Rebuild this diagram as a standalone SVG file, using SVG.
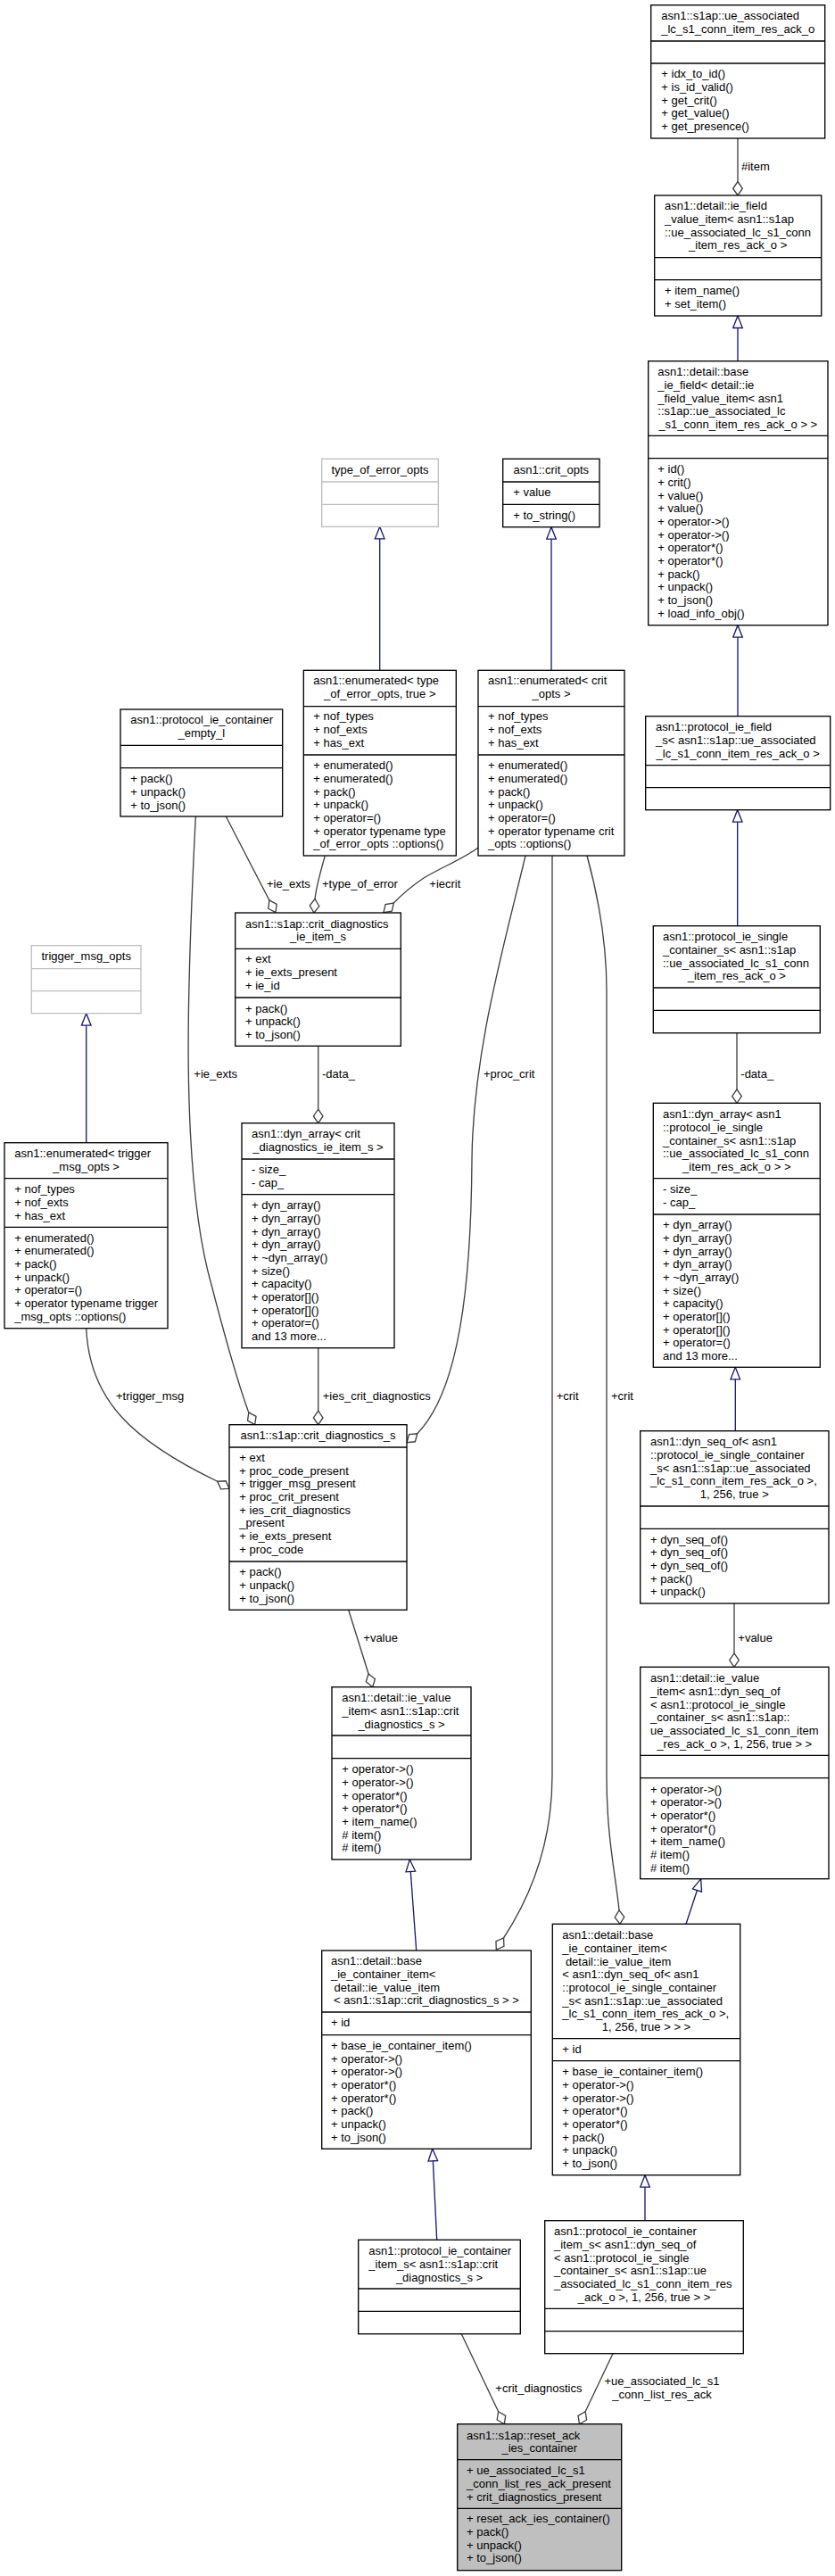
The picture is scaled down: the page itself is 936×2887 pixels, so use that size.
<svg xmlns="http://www.w3.org/2000/svg" width="936" height="2887" viewBox="0 0 936 2887">
<style>
.t{font-family:"Liberation Sans",Arial,Helvetica,sans-serif;font-size:13px;fill:#000}
.c{text-anchor:middle}
.box{fill:#fff;stroke:#000;stroke-width:1.33}
.gbox{fill:#fff;stroke:#bfbfbf;stroke-width:1.33}
.main{fill:#bfbfbf;stroke:#000;stroke-width:1.33}
.dv{stroke:#000;stroke-width:1.33}
.gdv{stroke:#bfbfbf;stroke-width:1.33}
.agg{fill:none;stroke:#404040;stroke-width:1.33;marker-end:url(#dia)}
.inh{fill:none;stroke:#191970;stroke-width:1.33;marker-end:url(#tri)}
</style>
<defs>
<marker id="dia" markerUnits="userSpaceOnUse" markerWidth="18" markerHeight="13" viewBox="0 0 18 13" refX="16.5" refY="6.5" orient="auto">
<path d="M1,6.5 L8.75,1.2 L16.5,6.5 L8.75,11.8 Z" fill="#fff" stroke="#404040" stroke-width="1.33"/>
</marker>
<marker id="tri" markerUnits="userSpaceOnUse" markerWidth="16" markerHeight="13" viewBox="0 0 16 13" refX="14.5" refY="6.5" orient="auto">
<path d="M1,1.2 L14.5,6.5 L1,11.8 Z" fill="#fff" stroke="#191970" stroke-width="1.33"/>
</marker>
</defs>
<rect width="936" height="2887" fill="#fff"/>

<g id="connectors">
<path class="agg" d="M827,155 L827,219"/>
<text class="t" x="831" y="191.2">#item</text>
<path class="inh" d="M827,404.7 L827,354"/>
<path class="inh" d="M827,802.7 L827,700.7"/>
<path class="inh" d="M826.7,1037.7 L826.7,907.7"/>
<path class="agg" d="M826,1157.7 L826,1236.3"/>
<text class="t" x="830.3" y="1208.2">-data_</text>
<path class="inh" d="M824.3,1603.7 L824.3,1532.3"/>
<path class="agg" d="M823,1797 L823,1868.3"/>
<text class="t" x="827.3" y="1840.2">+value</text>
<path class="inh" d="M769,2156.3 L785.7,2105.7"/>
<path class="inh" d="M723,2488.7 L723,2437.7"/>
<path class="agg" d="M687,2637.7 L649.5,2716.7"/>
<text class="t c" x="742" y="2673.2">+ue_associated_lc_s1</text>
<text class="t c" x="742" y="2688.2">_conn_list_res_ack</text>
<path class="agg" d="M517.3,2615.7 L565.3,2716.7"/>
<text class="t" x="555.3" y="2681.2">+crit_diagnostics</text>
<path class="inh" d="M489.7,2510.3 L484.7,2408.3"/>
<path class="inh" d="M466.7,2186 L459.3,2084"/>
<path class="agg" d="M390.7,1804.3 L417.7,1890.7"/>
<text class="t" x="407.3" y="1840.2">+value</text>
<path class="agg" d="M96.7,1488.7 C100,1570 150,1615 243.3,1660 L257,1668.3"/>
<text class="t" x="130" y="1568.5">+trigger_msg</text>
<path class="agg" d="M219.3,915 C211,1080 200,1310 237,1440 C250,1490 265,1545 278.3,1581.7 L285.7,1596.7"/>
<text class="t" x="217.3" y="1208.2">+ie_exts</text>
<path class="agg" d="M356.7,1510.7 L356.7,1596.7"/>
<text class="t" x="361.7" y="1568.5">+ies_crit_diagnostics</text>
<path class="agg" d="M589,959 C565,1060 530,1180 529,1300 C528,1440 515,1560 466.7,1607.7 L456,1616.7"/>
<text class="t" x="542" y="1208.2">+proc_crit</text>
<path class="inh" d="M96.7,1280.7 L96.7,1135.7"/>
<path class="agg" d="M253.3,915 L309,1022.7"/>
<text class="t" x="299" y="995.2">+ie_exts</text>
<path class="agg" d="M364.3,959 C360,975 354,995 353,1008.3 L352,1023"/>
<text class="t" x="361" y="995.2">+type_of_error</text>
<path class="agg" d="M536,950 C520,962 495,972 475,984 C460,994 448,1005 440,1013.3 L430,1022.7"/>
<text class="t" x="481.3" y="995.2">+iecrit</text>
<path class="agg" d="M356.7,1172.3 L356.7,1258.7"/>
<text class="t" x="361" y="1208.2">-data_</text>
<path class="inh" d="M618,751.3 L618,590.7"/>
<path class="inh" d="M425.7,751.3 L425.7,590.3"/>
<path class="agg" d="M619,959 L619,1990 C619,2050 605,2110 564.7,2171.7 L556.3,2185"/>
<text class="t" x="623.7" y="1568.5">+crit</text>
<path class="agg" d="M658,959 C672,1010 680,1060 680,1110 L680,1990 C680,2060 690,2100 694,2140.7 L695,2156.3"/>
<text class="t" x="685" y="1568.5">+crit</text>
</g>

<g id="n_ue_assoc_item_o">
<rect class="box" x="729.7" y="5.7" width="195" height="149.3"/>
<line class="dv" x1="729.7" y1="46" x2="924.7" y2="46"/>
<line class="dv" x1="729.7" y1="71" x2="924.7" y2="71"/>
<text class="t" x="741.3" y="21.8">asn1::s1ap::ue_associated</text>
<text class="t c" x="827.2" y="36.5">_lc_s1_conn_item_res_ack_o</text>
<text class="t" x="741.3" y="87.2">+ idx_to_id()</text>
<text class="t" x="741.3" y="101.9">+ is_id_valid()</text>
<text class="t" x="741.3" y="116.5">+ get_crit()</text>
<text class="t" x="741.3" y="131.2">+ get_value()</text>
<text class="t" x="741.3" y="145.9">+ get_presence()</text>
</g>

<g id="n_ie_field_value_item">
<rect class="box" x="733.7" y="219" width="187" height="135"/>
<line class="dv" x1="733.7" y1="288.7" x2="920.7" y2="288.7"/>
<line class="dv" x1="733.7" y1="313.7" x2="920.7" y2="313.7"/>
<text class="t" x="745" y="235.2">asn1::detail::ie_field</text>
<text class="t" x="745" y="249.9">_value_item&lt; asn1::s1ap</text>
<text class="t" x="745" y="264.5">::ue_associated_lc_s1_conn</text>
<text class="t c" x="827.2" y="279.2">_item_res_ack_o &gt;</text>
<text class="t" x="745" y="329.8">+ item_name()</text>
<text class="t" x="745" y="344.5">+ set_item()</text>
</g>

<g id="n_base_ie_field">
<rect class="box" x="726.7" y="404.7" width="201.3" height="296"/>
<line class="dv" x1="726.7" y1="488.3" x2="928" y2="488.3"/>
<line class="dv" x1="726.7" y1="513.7" x2="928" y2="513.7"/>
<text class="t" x="737.3" y="421.2">asn1::detail::base</text>
<text class="t" x="737.3" y="435.9">_ie_field&lt; detail::ie</text>
<text class="t" x="737.3" y="450.5">_field_value_item&lt; asn1</text>
<text class="t" x="737.3" y="465.2">::s1ap::ue_associated_lc</text>
<text class="t c" x="827.3" y="479.9">_s1_conn_item_res_ack_o &gt; &gt;</text>
<text class="t" x="737.3" y="530.2">+ id()</text>
<text class="t" x="737.3" y="544.9">+ crit()</text>
<text class="t" x="737.3" y="559.5">+ value()</text>
<text class="t" x="737.3" y="574.2">+ value()</text>
<text class="t" x="737.3" y="588.9">+ operator-&gt;()</text>
<text class="t" x="737.3" y="603.5">+ operator-&gt;()</text>
<text class="t" x="737.3" y="618.2">+ operator*()</text>
<text class="t" x="737.3" y="632.9">+ operator*()</text>
<text class="t" x="737.3" y="647.5">+ pack()</text>
<text class="t" x="737.3" y="662.2">+ unpack()</text>
<text class="t" x="737.3" y="676.9">+ to_json()</text>
<text class="t" x="737.3" y="691.5">+ load_info_obj()</text>
</g>

<g id="n_protocol_ie_field_s">
<rect class="box" x="723.7" y="802.7" width="207" height="105"/>
<line class="dv" x1="723.7" y1="857.7" x2="930.7" y2="857.7"/>
<line class="dv" x1="723.7" y1="882.7" x2="930.7" y2="882.7"/>
<text class="t" x="735" y="819.2">asn1::protocol_ie_field</text>
<text class="t" x="735" y="833.9">_s&lt; asn1::s1ap::ue_associated</text>
<text class="t c" x="827.2" y="848.5">_lc_s1_conn_item_res_ack_o &gt;</text>
</g>

<g id="n_protocol_ie_single_container_s">
<rect class="box" x="732.3" y="1037.7" width="187" height="120"/>
<line class="dv" x1="732.3" y1="1107" x2="919.3" y2="1107"/>
<line class="dv" x1="732.3" y1="1132.3" x2="919.3" y2="1132.3"/>
<text class="t" x="743" y="1054.2">asn1::protocol_ie_single</text>
<text class="t" x="743" y="1068.9">_container_s&lt; asn1::s1ap</text>
<text class="t" x="743" y="1083.5">::ue_associated_lc_s1_conn</text>
<text class="t c" x="825.8" y="1098.2">_item_res_ack_o &gt;</text>
</g>

<g id="n_dyn_array_single_container">
<rect class="box" x="732.3" y="1236.3" width="187" height="296"/>
<line class="dv" x1="732.3" y1="1320.7" x2="919.3" y2="1320.7"/>
<line class="dv" x1="732.3" y1="1361" x2="919.3" y2="1361"/>
<text class="t" x="743" y="1253.2">asn1::dyn_array&lt; asn1</text>
<text class="t" x="743" y="1267.9">::protocol_ie_single</text>
<text class="t" x="743" y="1282.5">_container_s&lt; asn1::s1ap</text>
<text class="t" x="743" y="1297.2">::ue_associated_lc_s1_conn</text>
<text class="t c" x="825.8" y="1311.9">_item_res_ack_o &gt; &gt;</text>
<text class="t" x="743" y="1337.2">- size_</text>
<text class="t" x="743" y="1351.9">- cap_</text>
<text class="t" x="743" y="1377.2">+ dyn_array()</text>
<text class="t" x="743" y="1391.9">+ dyn_array()</text>
<text class="t" x="743" y="1406.5">+ dyn_array()</text>
<text class="t" x="743" y="1421.2">+ dyn_array()</text>
<text class="t" x="743" y="1435.9">+ ~dyn_array()</text>
<text class="t" x="743" y="1450.5">+ size()</text>
<text class="t" x="743" y="1465.2">+ capacity()</text>
<text class="t" x="743" y="1479.9">+ operator[]()</text>
<text class="t" x="743" y="1494.5">+ operator[]()</text>
<text class="t" x="743" y="1509.2">+ operator=()</text>
<text class="t" x="743" y="1523.9">and 13 more...</text>
</g>

<g id="n_dyn_seq_of">
<rect class="box" x="717.7" y="1603.7" width="211.3" height="193.3"/>
<line class="dv" x1="717.7" y1="1688" x2="929" y2="1688"/>
<line class="dv" x1="717.7" y1="1713.3" x2="929" y2="1713.3"/>
<text class="t" x="729" y="1620.2">asn1::dyn_seq_of&lt; asn1</text>
<text class="t" x="729" y="1634.9">::protocol_ie_single_container</text>
<text class="t" x="729" y="1649.5">_s&lt; asn1::s1ap::ue_associated</text>
<text class="t" x="729" y="1664.2">_lc_s1_conn_item_res_ack_o &gt;,</text>
<text class="t c" x="823.3" y="1678.9">1, 256, true &gt;</text>
<text class="t" x="729" y="1729.5">+ dyn_seq_of()</text>
<text class="t" x="729" y="1744.2">+ dyn_seq_of()</text>
<text class="t" x="729" y="1758.9">+ dyn_seq_of()</text>
<text class="t" x="729" y="1773.5">+ pack()</text>
<text class="t" x="729" y="1788.2">+ unpack()</text>
</g>

<g id="n_ie_value_item_seq">
<rect class="box" x="717.7" y="1868.3" width="211.3" height="237.4"/>
<line class="dv" x1="717.7" y1="1967.3" x2="929" y2="1967.3"/>
<line class="dv" x1="717.7" y1="1992.7" x2="929" y2="1992.7"/>
<text class="t" x="729" y="1885.2">asn1::detail::ie_value</text>
<text class="t" x="729" y="1899.9">_item&lt; asn1::dyn_seq_of</text>
<text class="t" x="729" y="1914.5">&lt; asn1::protocol_ie_single</text>
<text class="t" x="729" y="1929.2">_container_s&lt; asn1::s1ap::</text>
<text class="t" x="729" y="1943.9">ue_associated_lc_s1_conn_item</text>
<text class="t c" x="823.3" y="1958.5">_res_ack_o &gt;, 1, 256, true &gt; &gt;</text>
<text class="t" x="729" y="2009.5">+ operator-&gt;()</text>
<text class="t" x="729" y="2024.2">+ operator-&gt;()</text>
<text class="t" x="729" y="2038.9">+ operator*()</text>
<text class="t" x="729" y="2053.5">+ operator*()</text>
<text class="t" x="729" y="2068.2">+ item_name()</text>
<text class="t" x="729" y="2082.9"># item()</text>
<text class="t" x="729" y="2097.5"># item()</text>
</g>

<g id="n_base_ie_container_item_seq">
<rect class="box" x="619.3" y="2156.3" width="210.4" height="281.4"/>
<line class="dv" x1="619.3" y1="2284.7" x2="829.7" y2="2284.7"/>
<line class="dv" x1="619.3" y1="2309.7" x2="829.7" y2="2309.7"/>
<text class="t" x="630.3" y="2173.2">asn1::detail::base</text>
<text class="t" x="630.3" y="2187.9">_ie_container_item&lt;</text>
<text class="t" x="633.9" y="2202.5">detail::ie_value_item</text>
<text class="t" x="630.3" y="2217.2">&lt; asn1::dyn_seq_of&lt; asn1</text>
<text class="t" x="630.3" y="2231.9">::protocol_ie_single_container</text>
<text class="t" x="630.3" y="2246.5">_s&lt; asn1::s1ap::ue_associated</text>
<text class="t" x="630.3" y="2261.2">_lc_s1_conn_item_res_ack_o &gt;,</text>
<text class="t c" x="724.5" y="2275.9">1, 256, true &gt; &gt; &gt;</text>
<text class="t" x="630.3" y="2300.8">+ id</text>
<text class="t" x="630.3" y="2326.2">+ base_ie_container_item()</text>
<text class="t" x="630.3" y="2340.9">+ operator-&gt;()</text>
<text class="t" x="630.3" y="2355.5">+ operator-&gt;()</text>
<text class="t" x="630.3" y="2370.2">+ operator*()</text>
<text class="t" x="630.3" y="2384.9">+ operator*()</text>
<text class="t" x="630.3" y="2399.5">+ pack()</text>
<text class="t" x="630.3" y="2414.2">+ unpack()</text>
<text class="t" x="630.3" y="2428.9">+ to_json()</text>
</g>

<g id="n_protocol_ie_container_item_s_seq">
<rect class="box" x="610.7" y="2488.7" width="222.6" height="149"/>
<line class="dv" x1="610.7" y1="2587.3" x2="833.3" y2="2587.3"/>
<line class="dv" x1="610.7" y1="2612.7" x2="833.3" y2="2612.7"/>
<text class="t" x="621" y="2505.2">asn1::protocol_ie_container</text>
<text class="t" x="621" y="2519.9">_item_s&lt; asn1::dyn_seq_of</text>
<text class="t" x="621" y="2534.5">&lt; asn1::protocol_ie_single</text>
<text class="t" x="621" y="2549.2">_container_s&lt; asn1::s1ap::ue</text>
<text class="t" x="621" y="2563.9">_associated_lc_s1_conn_item_res</text>
<text class="t c" x="722" y="2578.5">_ack_o &gt;, 1, 256, true &gt; &gt;</text>
</g>

<g id="n_reset_ack_ies_container">
<rect class="main" x="512.7" y="2716.7" width="184" height="164"/>
<line class="dv" x1="512.7" y1="2756.7" x2="696.7" y2="2756.7"/>
<line class="dv" x1="512.7" y1="2811.3" x2="696.7" y2="2811.3"/>
<text class="t" x="523" y="2733.5">asn1::s1ap::reset_ack</text>
<text class="t c" x="604.7" y="2748.2">_ies_container</text>
<text class="t" x="523" y="2773.2">+ ue_associated_lc_s1</text>
<text class="t" x="523" y="2787.9">_conn_list_res_ack_present</text>
<text class="t" x="523" y="2802.5">+ crit_diagnostics_present</text>
<text class="t" x="523" y="2827.2">+ reset_ack_ies_container()</text>
<text class="t" x="523" y="2841.9">+ pack()</text>
<text class="t" x="523" y="2856.5">+ unpack()</text>
<text class="t" x="523" y="2871.2">+ to_json()</text>
</g>

<g id="n_protocol_ie_container_item_s_crit">
<rect class="box" x="401.7" y="2510.3" width="181.6" height="105.4"/>
<line class="dv" x1="401.7" y1="2565" x2="583.3" y2="2565"/>
<line class="dv" x1="401.7" y1="2590.3" x2="583.3" y2="2590.3"/>
<text class="t" x="413.3" y="2527.2">asn1::protocol_ie_container</text>
<text class="t" x="413.3" y="2541.9">_item_s&lt; asn1::s1ap::crit</text>
<text class="t c" x="492.5" y="2556.5">_diagnostics_s &gt;</text>
</g>

<g id="n_base_ie_container_item_crit">
<rect class="box" x="360.7" y="2186" width="234.6" height="222.3"/>
<line class="dv" x1="360.7" y1="2255" x2="595.3" y2="2255"/>
<line class="dv" x1="360.7" y1="2280.7" x2="595.3" y2="2280.7"/>
<text class="t" x="371" y="2202.2">asn1::detail::base</text>
<text class="t" x="371" y="2216.9">_ie_container_item&lt;</text>
<text class="t" x="374.6" y="2231.5">detail::ie_value_item</text>
<text class="t c" x="478" y="2246.2">&lt; asn1::s1ap::crit_diagnostics_s &gt; &gt;</text>
<text class="t" x="371" y="2271.2">+ id</text>
<text class="t" x="371" y="2296.8">+ base_ie_container_item()</text>
<text class="t" x="371" y="2311.5">+ operator-&gt;()</text>
<text class="t" x="371" y="2326.2">+ operator-&gt;()</text>
<text class="t" x="371" y="2340.8">+ operator*()</text>
<text class="t" x="371" y="2355.5">+ operator*()</text>
<text class="t" x="371" y="2370.2">+ pack()</text>
<text class="t" x="371" y="2384.8">+ unpack()</text>
<text class="t" x="371" y="2399.5">+ to_json()</text>
</g>

<g id="n_ie_value_item_crit">
<rect class="box" x="372" y="1890.7" width="156" height="193.3"/>
<line class="dv" x1="372" y1="1945" x2="528" y2="1945"/>
<line class="dv" x1="372" y1="1970.7" x2="528" y2="1970.7"/>
<text class="t" x="383.3" y="1907.2">asn1::detail::ie_value</text>
<text class="t" x="383.3" y="1921.9">_item&lt; asn1::s1ap::crit</text>
<text class="t c" x="450" y="1936.5">_diagnostics_s &gt;</text>
<text class="t" x="383.3" y="1987.2">+ operator-&gt;()</text>
<text class="t" x="383.3" y="2001.9">+ operator-&gt;()</text>
<text class="t" x="383.3" y="2016.5">+ operator*()</text>
<text class="t" x="383.3" y="2031.2">+ operator*()</text>
<text class="t" x="383.3" y="2045.9">+ item_name()</text>
<text class="t" x="383.3" y="2060.5"># item()</text>
<text class="t" x="383.3" y="2075.2"># item()</text>
</g>

<g id="n_crit_diagnostics_s">
<rect class="box" x="257" y="1596.7" width="199" height="207.6"/>
<line class="dv" x1="257" y1="1622" x2="456" y2="1622"/>
<line class="dv" x1="257" y1="1750" x2="456" y2="1750"/>
<text class="t c" x="356.5" y="1613.2">asn1::s1ap::crit_diagnostics_s</text>
<text class="t" x="268.3" y="1637.8">+ ext</text>
<text class="t" x="268.3" y="1652.5">+ proc_code_present</text>
<text class="t" x="268.3" y="1667.2">+ trigger_msg_present</text>
<text class="t" x="268.3" y="1681.8">+ proc_crit_present</text>
<text class="t" x="268.3" y="1696.5">+ ies_crit_diagnostics</text>
<text class="t" x="268.3" y="1711.2">_present</text>
<text class="t" x="268.3" y="1725.8">+ ie_exts_present</text>
<text class="t" x="268.3" y="1740.5">+ proc_code</text>
<text class="t" x="268.3" y="1766.2">+ pack()</text>
<text class="t" x="268.3" y="1780.9">+ unpack()</text>
<text class="t" x="268.3" y="1795.5">+ to_json()</text>
</g>

<g id="n_enumerated_trigger_msg_opts">
<rect class="box" x="5" y="1280.7" width="183" height="208"/>
<line class="dv" x1="5" y1="1320.7" x2="188" y2="1320.7"/>
<line class="dv" x1="5" y1="1375.3" x2="188" y2="1375.3"/>
<text class="t" x="16.3" y="1297.2">asn1::enumerated&lt; trigger</text>
<text class="t c" x="96.5" y="1311.9">_msg_opts &gt;</text>
<text class="t" x="16.3" y="1337.2">+ nof_types</text>
<text class="t" x="16.3" y="1351.9">+ nof_exts</text>
<text class="t" x="16.3" y="1366.5">+ has_ext</text>
<text class="t" x="16.3" y="1391.5">+ enumerated()</text>
<text class="t" x="16.3" y="1406.2">+ enumerated()</text>
<text class="t" x="16.3" y="1420.9">+ pack()</text>
<text class="t" x="16.3" y="1435.5">+ unpack()</text>
<text class="t" x="16.3" y="1450.2">+ operator=()</text>
<text class="t" x="16.3" y="1464.9">+ operator typename trigger</text>
<text class="t" x="16.3" y="1479.5">_msg_opts ::options()</text>
</g>

<g id="n_protocol_ie_container_empty_l">
<rect class="box" x="135" y="795" width="181.7" height="120"/>
<line class="dv" x1="135" y1="835.3" x2="316.7" y2="835.3"/>
<line class="dv" x1="135" y1="860.7" x2="316.7" y2="860.7"/>
<text class="t" x="146.3" y="811.2">asn1::protocol_ie_container</text>
<text class="t c" x="225.8" y="825.9">_empty_l</text>
<text class="t" x="146.3" y="877.2">+ pack()</text>
<text class="t" x="146.3" y="891.9">+ unpack()</text>
<text class="t" x="146.3" y="906.5">+ to_json()</text>
</g>

<g id="n_dyn_array_crit_item">
<rect class="box" x="271" y="1258.7" width="171" height="252"/>
<line class="dv" x1="271" y1="1299" x2="442" y2="1299"/>
<line class="dv" x1="271" y1="1338.7" x2="442" y2="1338.7"/>
<text class="t" x="282" y="1275.2">asn1::dyn_array&lt; crit</text>
<text class="t c" x="356.5" y="1289.9">_diagnostics_ie_item_s &gt;</text>
<text class="t" x="282" y="1315.2">- size_</text>
<text class="t" x="282" y="1329.9">- cap_</text>
<text class="t" x="282" y="1355.2">+ dyn_array()</text>
<text class="t" x="282" y="1369.9">+ dyn_array()</text>
<text class="t" x="282" y="1384.5">+ dyn_array()</text>
<text class="t" x="282" y="1399.2">+ dyn_array()</text>
<text class="t" x="282" y="1413.9">+ ~dyn_array()</text>
<text class="t" x="282" y="1428.5">+ size()</text>
<text class="t" x="282" y="1443.2">+ capacity()</text>
<text class="t" x="282" y="1457.9">+ operator[]()</text>
<text class="t" x="282" y="1472.5">+ operator[]()</text>
<text class="t" x="282" y="1487.2">+ operator=()</text>
<text class="t" x="282" y="1501.9">and 13 more...</text>
</g>

<g id="n_enumerated_crit_opts">
<rect class="box" x="536" y="751.3" width="164" height="207.7"/>
<line class="dv" x1="536" y1="791.7" x2="700" y2="791.7"/>
<line class="dv" x1="536" y1="846" x2="700" y2="846"/>
<text class="t" x="547" y="767.2">asn1::enumerated&lt; crit</text>
<text class="t c" x="618" y="781.9">_opts &gt;</text>
<text class="t" x="547" y="807.2">+ nof_types</text>
<text class="t" x="547" y="821.9">+ nof_exts</text>
<text class="t" x="547" y="836.5">+ has_ext</text>
<text class="t" x="547" y="862.2">+ enumerated()</text>
<text class="t" x="547" y="876.9">+ enumerated()</text>
<text class="t" x="547" y="891.5">+ pack()</text>
<text class="t" x="547" y="906.2">+ unpack()</text>
<text class="t" x="547" y="920.9">+ operator=()</text>
<text class="t" x="547" y="935.5">+ operator typename crit</text>
<text class="t" x="547" y="950.2">_opts ::options()</text>
</g>

<g id="n_trigger_msg_opts">
<rect class="gbox" x="35.3" y="1059.7" width="122.7" height="76"/>
<line class="gdv" x1="35.3" y1="1085.7" x2="158" y2="1085.7"/>
<line class="gdv" x1="35.3" y1="1110.7" x2="158" y2="1110.7"/>
<text class="t c" x="96.7" y="1076.2">trigger_msg_opts</text>
</g>

<g id="n_crit_diagnostics_ie_item_s">
<rect class="box" x="263.7" y="1023" width="185.6" height="149.3"/>
<line class="dv" x1="263.7" y1="1063.3" x2="449.3" y2="1063.3"/>
<line class="dv" x1="263.7" y1="1118" x2="449.3" y2="1118"/>
<text class="t" x="275" y="1039.5">asn1::s1ap::crit_diagnostics</text>
<text class="t c" x="356.5" y="1054.2">_ie_item_s</text>
<text class="t" x="275" y="1079.2">+ ext</text>
<text class="t" x="275" y="1093.9">+ ie_exts_present</text>
<text class="t" x="275" y="1108.5">+ ie_id</text>
<text class="t" x="275" y="1134.5">+ pack()</text>
<text class="t" x="275" y="1149.2">+ unpack()</text>
<text class="t" x="275" y="1163.9">+ to_json()</text>
</g>

<g id="n_enumerated_type_of_error_opts">
<rect class="box" x="340.3" y="751.3" width="171" height="207.7"/>
<line class="dv" x1="340.3" y1="791.7" x2="511.3" y2="791.7"/>
<line class="dv" x1="340.3" y1="846" x2="511.3" y2="846"/>
<text class="t" x="351.3" y="767.2">asn1::enumerated&lt; type</text>
<text class="t c" x="425.8" y="781.9">_of_error_opts, true &gt;</text>
<text class="t" x="351.3" y="807.2">+ nof_types</text>
<text class="t" x="351.3" y="821.9">+ nof_exts</text>
<text class="t" x="351.3" y="836.5">+ has_ext</text>
<text class="t" x="351.3" y="862.2">+ enumerated()</text>
<text class="t" x="351.3" y="876.9">+ enumerated()</text>
<text class="t" x="351.3" y="891.5">+ pack()</text>
<text class="t" x="351.3" y="906.2">+ unpack()</text>
<text class="t" x="351.3" y="920.9">+ operator=()</text>
<text class="t" x="351.3" y="935.5">+ operator typename type</text>
<text class="t" x="351.3" y="950.2">_of_error_opts ::options()</text>
</g>

<g id="n_crit_opts">
<rect class="box" x="563.7" y="514.3" width="108.3" height="76.4"/>
<line class="dv" x1="563.7" y1="540" x2="672" y2="540"/>
<line class="dv" x1="563.7" y1="565.3" x2="672" y2="565.3"/>
<text class="t c" x="617.8" y="531.2">asn1::crit_opts</text>
<text class="t" x="575.3" y="556.2">+ value</text>
<text class="t" x="575.3" y="581.5">+ to_string()</text>
</g>

<g id="n_type_of_error_opts">
<rect class="gbox" x="360.7" y="514.3" width="130.6" height="76"/>
<line class="gdv" x1="360.7" y1="540" x2="491.3" y2="540"/>
<line class="gdv" x1="360.7" y1="565.3" x2="491.3" y2="565.3"/>
<text class="t c" x="426" y="531.2">type_of_error_opts</text>
</g>
</svg>
